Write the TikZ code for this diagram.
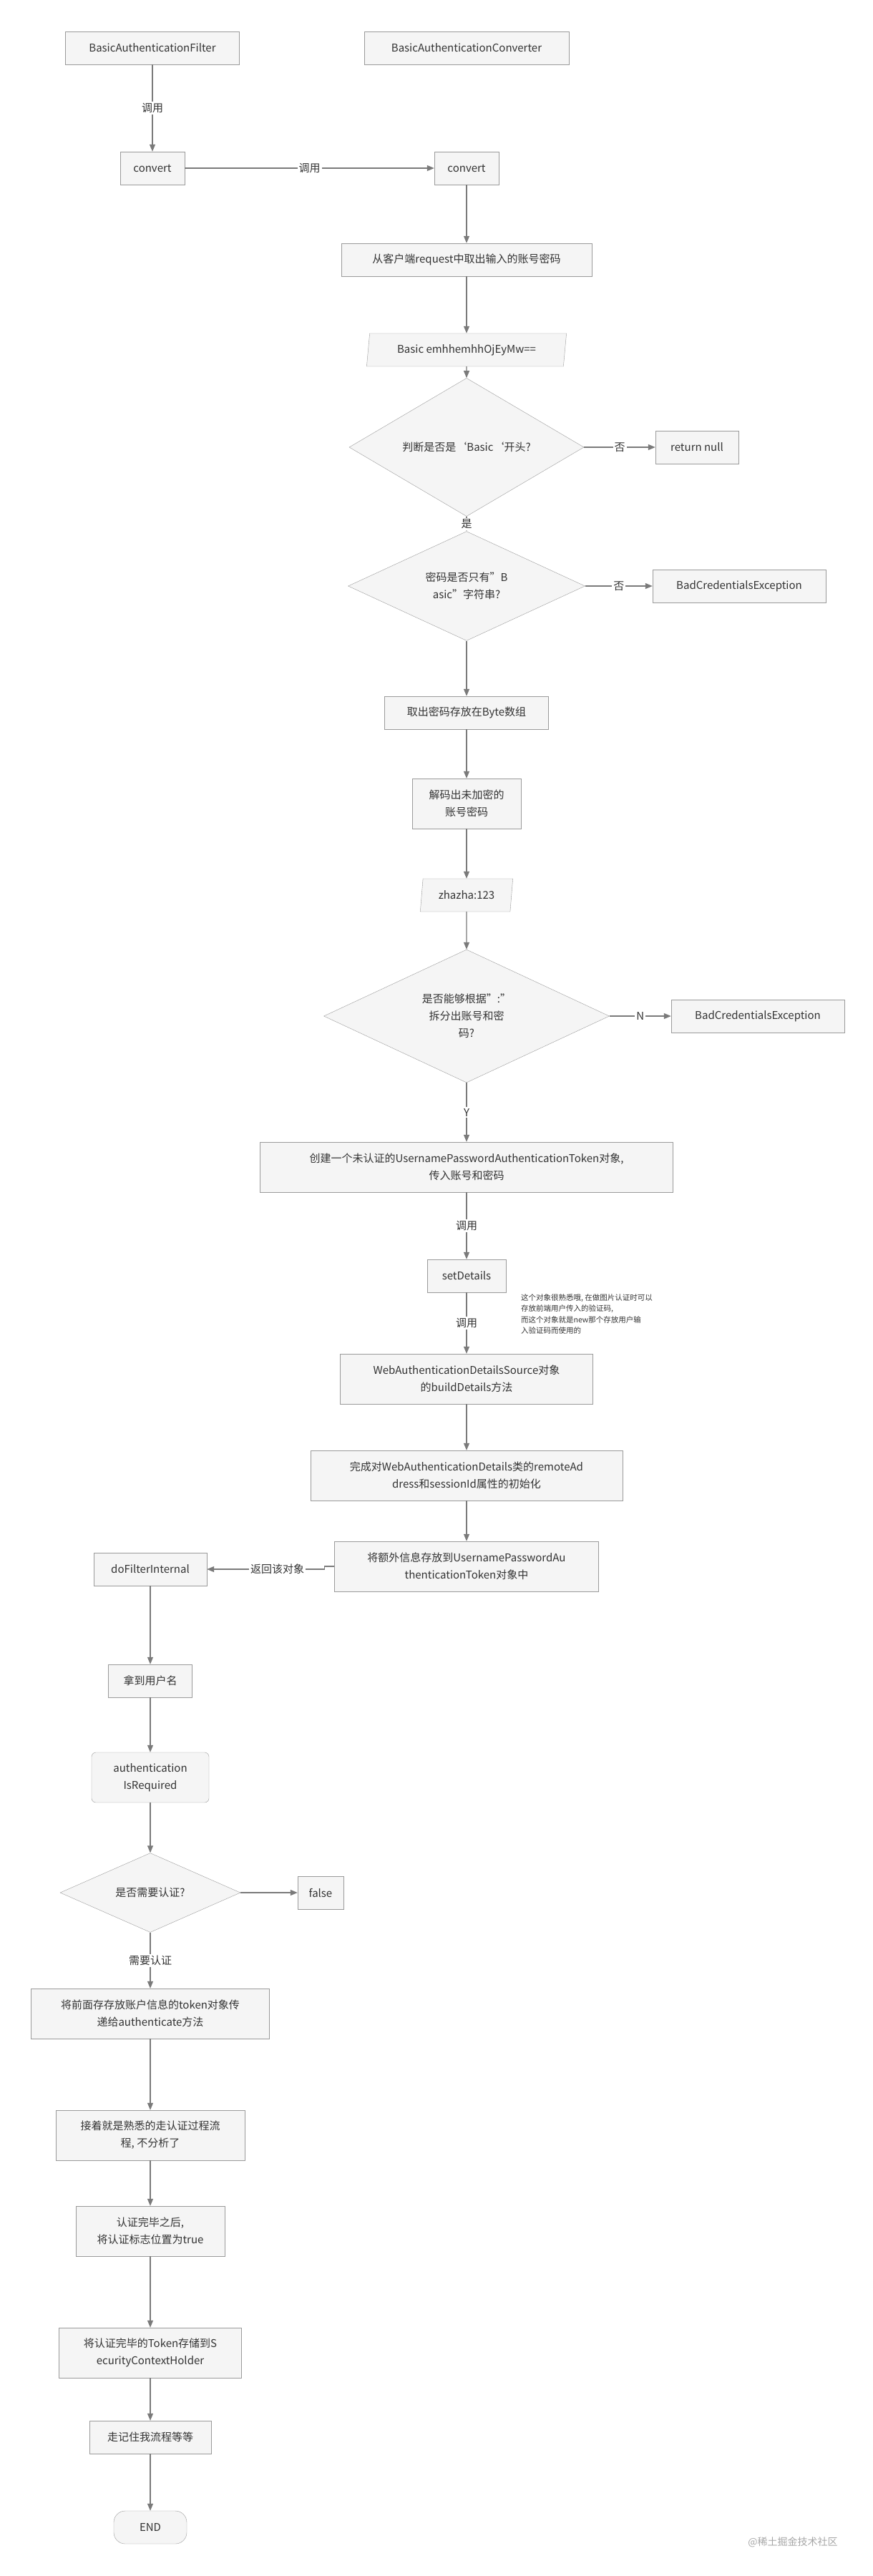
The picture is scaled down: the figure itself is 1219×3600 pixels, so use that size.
\documentclass[tikz,border=0pt]{standalone}
\usepackage{fontspec}
\setmainfont{Noto Sans CJK SC}
\usepackage{xcolor}
\usetikzlibrary{shapes.geometric, arrows.meta}
\definecolor{boxfill}{HTML}{F5F5F5}
\definecolor{boxline}{HTML}{9A9A9A}
\definecolor{arrowgray}{HTML}{7A7A7A}
\definecolor{textgray}{HTML}{333333}

\begin{document}
\begin{tikzpicture}[x=1pt, y=-1pt,
    every node/.style={font=\fontsize{15}{24}\selectfont, text=textgray},
    box/.style={draw=boxline, fill=boxfill, minimum height=46, inner sep=2, align=center},
    tall/.style={box, minimum height=70},
    io/.style={trapezium, trapezium left angle=82, trapezium right angle=98, trapezium stretches=true, draw=boxline, fill=boxfill, minimum height=46},
    decide/.style={diamond, draw=boxline, fill=boxfill, inner sep=0, align=center},
    lbl/.style={fill=white, inner sep=2},
    flow/.style={draw=arrowgray, line width=1.1pt, -{Triangle[length=10pt, width=8pt]}}]
    \useasboundingbox (0,0) rectangle (1219,3600);
    %\tikzset{label/.style={midway,font=\small}}
        \node[box, minimum width=243] (filter) at (213,67) {BasicAuthenticationFilter};
        \node[box, minimum width=286] (converter) at (652,67) {BasicAuthenticationConverter};
        \node[box, minimum width=90] (conv1) at (213,235) {convert};
        \node[box, minimum width=90] (conv2) at (652,235) {convert};
        \node[box, minimum width=350] (request) at (652,363) {从客户端request中取出输入的账号密码};
        \node[io, minimum width=280] (basic) at (652,489) {Basic emhhemhhOjEyMw==};
        \node[decide, minimum width=328, minimum height=118] (isbasic) at (652,625) {判断是否是`Basic`开头?};
        \node[box, minimum width=116] (null) at (974,625) {return null};
        \node[decide, minimum width=331, minimum height=119] (onlybasic) at (652,819) {密码是否只有"B\\asic"字符串?};
        \node[box, minimum width=242] (bad1) at (1033,819) {BadCredentialsException};
        \node[box, minimum width=229] (bytes) at (652,996) {取出密码存放在Byte数组};
        \node[tall, minimum width=152] (decode) at (652,1123) {解码出未加密的\\账号密码};
        \node[io, minimum width=130] (plain) at (652,1251) {zhazha:123};
        \node[decide, minimum width=399, minimum height=143] (split) at (652,1420) {是否能够根据":"\\拆分出账号和密\\码?};
        \node[box, minimum width=242] (bad2) at (1059,1420) {BadCredentialsException};
        \node[tall, minimum width=577] (token) at (652,1631) {创建一个未认证的UsernamePasswordAuthenticationToken对象,\\传入账号和密码};
        \node[box, minimum width=110] (details) at (652,1783) {setDetails};
        \node[anchor=north west, align=left, font=\fontsize{10.5}{15.5}\selectfont, inner sep=0] (note) at (728,1808) {这个对象很熟悉哦, 在做图片认证时可以\\存放前端用户传入的验证码,\\而这个对象就是new那个存放用户输\\入验证码而使用的};
        \node[tall, minimum width=353] (source) at (652,1927) {WebAuthenticationDetailsSource对象\\的buildDetails方法};
        \node[tall, minimum width=436] (init) at (652,2062) {完成对WebAuthenticationDetails类的remoteAd\\dress和sessionId属性的初始化};
        \node[tall, minimum width=369] (store) at (652,2189) {将额外信息存放到UsernamePasswordAu\\thenticationToken对象中};
        \node[box, minimum width=158] (dofilter) at (210,2193) {doFilterInternal};
        \node[box, minimum width=117] (user) at (210,2349) {拿到用户名};
        \node[tall, rounded corners=6, minimum width=164] (required) at (210,2484) {authentication\\IsRequired};
        \node[decide, minimum width=252, minimum height=90] (need) at (210,2645) {是否需要认证?};
        \node[box, minimum width=64] (false) at (448,2645) {false};
        \node[tall, minimum width=333] (pass) at (210,2814) {将前面存存放账户信息的token对象传\\递给authenticate方法};
        \node[tall, minimum width=264] (auth) at (210,2984) {接着就是熟悉的走认证过程流\\程, 不分析了};
        \node[tall, minimum width=208] (done) at (210,3118) {认证完毕之后,\\将认证标志位置为true};
        \node[tall, minimum width=255] (holder) at (210,3288) {将认证完毕的Token存储到S\\ecurityContextHolder};
        \node[box, minimum width=170] (remember) at (210,3406) {走记住我流程等等};
        \node[box, rounded corners=16, minimum width=102] (end) at (210,3532) {END};
        \node[text=gray!70, font=\fontsize{14}{16}\selectfont] (mark) at (1108,3553) {@稀土掘金技术社区};

        \draw[flow] (filter) -- node[lbl] {调用} (conv1);
        \draw[flow] (conv1) -- node[lbl] {调用} (conv2);
        \draw[flow] (conv2) -- (request);
        \draw[flow] (request) -- (basic);
        \draw[flow] (basic) -- (isbasic);
        \draw[flow] (isbasic) -- node[lbl] {否} (null);
        \draw[flow] (isbasic) -- node[lbl] {是} (onlybasic);
        \draw[flow] (onlybasic) -- node[lbl] {否} (bad1);
        \draw[flow] (onlybasic) -- (bytes);
        \draw[flow] (bytes) -- (decode);
        \draw[flow] (decode) -- (plain);
        \draw[flow] (plain) -- (split);
        \draw[flow] (split) -- node[lbl] {N} (bad2);
        \draw[flow] (split) -- node[lbl] {Y} (token);
        \draw[flow] (token) -- node[lbl] {调用} (details);
        \draw[flow] (details) -- node[lbl] {调用} (source);
        \draw[flow] (source) -- (init);
        \draw[flow] (init) -- (store);
        \draw[flow] (store.west) -- ++(-14,0) |- node[lbl, pos=0.7] {返回该对象} (dofilter.east);
        \draw[flow] (dofilter) -- (user);
        \draw[flow] (user) -- (required);
        \draw[flow] (required) -- (need);
        \draw[flow] (need) -- (false);
        \draw[flow] (need) -- node[lbl] {需要认证} (pass);
        \draw[flow] (pass) -- (auth);
        \draw[flow] (auth) -- (done);
        \draw[flow] (done) -- (holder);
        \draw[flow] (holder) -- (remember);
        \draw[flow] (remember) -- (end);
\end{tikzpicture}
\end{document}
